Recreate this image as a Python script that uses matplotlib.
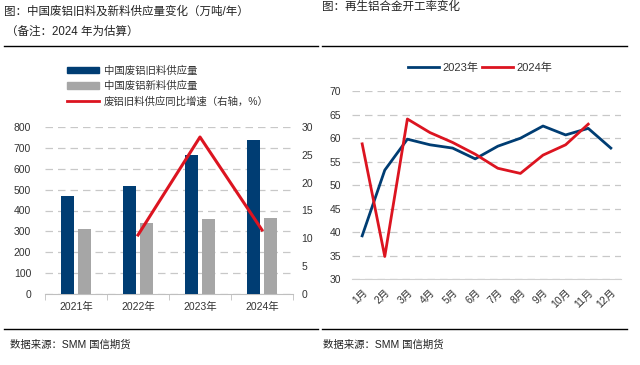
import matplotlib
matplotlib.use("Agg")
import matplotlib.pyplot as plt
from matplotlib.lines import Line2D
from matplotlib.patches import Patch

plt.rcParams['font.family'] = ['Liberation Sans', 'Noto Sans CJK SC', 'DejaVu Sans']

# left chart data
years = ['2021年', '2022年', '2023年', '2024年']
old_supply = [469, 518, 665, 739]
new_supply = [312, 340, 359, 366]
yoy_years = [1, 2, 3]
yoy_growth = [10.6, 28.2, 11.5]

# right chart data
months = ['1月', '2月', '3月', '4月', '5月', '6月', '7月', '8月', '9月', '10月', '11月', '12月']
rate_2023 = [39.2, 53.2, 59.8, 58.6, 57.9, 55.6, 58.3, 60.0, 62.6, 60.7, 62.1, 57.9]
rate_2024 = [58.8, 34.8, 64.1, 61.2, 59.1, 56.6, 53.6, 52.5, 56.4, 58.6, 63.0]

BLUE = '#003d73'
GREY = '#a6a6a6'
RED = '#dc1420'
GRID = '#c8c8c8'
TXT = '#333333'

fig = plt.figure(figsize=(6.4, 3.65), dpi=100)

# headers / footers
fig.text(4/640, 1-12/365, '图：中国废铝旧料及新料供应量变化（万吨/年）', fontsize=8.3,
         va='center', ha='left', color='#222222')
fig.text(6/640, 1-32/365, '（备注：2024 年为估算）', fontsize=8.3, va='center', ha='left', color='#222222')
fig.text(322/640, 1-7/365, '图：再生铝合金开工率变化', fontsize=8.3, va='center', ha='left', color='#222222')
fig.add_artist(Line2D([4/640, 318/640], [1-46/365]*2, color='black', lw=1.0))
fig.add_artist(Line2D([322/640, 627/640], [1-46/365]*2, color='black', lw=1.0))
fig.add_artist(Line2D([4/640, 318/640], [1-329/365]*2, color='black', lw=1.0))
fig.add_artist(Line2D([322/640, 627/640], [1-329/365]*2, color='black', lw=1.0))
fig.text(10/640, 1-345/365, '数据来源：SMM 国信期货', fontsize=7.5, va='center', ha='left', color='#222222')
fig.text(323/640, 1-345/365, '数据来源：SMM 国信期货', fontsize=7.5, va='center', ha='left', color='#222222')

# left chart
ax = fig.add_axes([45/640, 1-294/365, 248/640, 167/365])
x = range(len(years))
w = 0.2
ax.bar([i - 0.135 for i in x], old_supply, width=w, color=BLUE, zorder=3)
ax.bar([i + 0.135 for i in x], new_supply, width=w, color=GREY, zorder=3)
ax.set_ylim(0, 800)
ax.set_xlim(-0.5, 3.5)
ax.set_yticks(range(0, 801, 100))
ax.yaxis.grid(True, linestyle=(0, (6, 4)), color=GRID, lw=0.9, zorder=0)
ax.set_xticks(list(x))
ax.set_xticklabels(years)
ax.set_xticks([-0.5, 0.5, 1.5, 2.5, 3.5], minor=True)
ax.tick_params(axis='x', which='major', length=0, pad=6, labelsize=7.5, colors=TXT)
ax.tick_params(axis='x', which='minor', length=4, color='#bfbfbf')
ax.tick_params(axis='y', length=0, labelsize=7.5, colors=TXT, pad=10)
for s in ['left', 'right', 'top']:
    ax.spines[s].set_visible(False)
ax.spines['bottom'].set_color('#bfbfbf')

ax2 = ax.twinx()
ax2.plot(yoy_years, yoy_growth, color=RED, lw=2.2, zorder=4)
ax2.set_ylim(0, 30)
ax2.set_yticks(range(0, 31, 5))
ax2.tick_params(axis='y', length=0, labelsize=7.5, colors=TXT, pad=6)
for s in ax2.spines.values():
    s.set_visible(False)

handles = [Patch(color=BLUE), Patch(color=GREY), Line2D([], [], color=RED, lw=2)]
labels = ['中国废铝旧料供应量', '中国废铝新料供应量', '废铝旧料供应同比增速（右轴，%）']
fig.legend(handles, labels, loc='center left', bbox_to_anchor=(58/640, 1-86/365),
           frameon=False, fontsize=7.5, handlelength=3.0, handleheight=0.6,
           labelspacing=0.5, handletextpad=0.5, labelcolor=TXT)

# right chart
bx = fig.add_axes([352/640, 1-279/365, 269/640, 187.7/365])
bx.plot(range(len(rate_2023)), rate_2023, color=BLUE, lw=2.0, label='2023年', zorder=3)
bx.plot(range(len(rate_2024)), rate_2024, color=RED, lw=2.0, label='2024年', zorder=4)
bx.set_ylim(30, 70)
bx.set_xlim(-0.45, 11.45)
bx.set_yticks(range(30, 71, 5))
bx.yaxis.grid(True, linestyle=(0, (6, 4)), color=GRID, lw=0.9, zorder=0)
bx.set_xticks(range(len(months)))
bx.set_xticklabels(months, rotation=45, ha='right', rotation_mode='anchor')
bx.tick_params(axis='x', length=0, labelsize=7.5, colors=TXT, pad=6)
bx.tick_params(axis='y', length=0, labelsize=7.5, colors=TXT, pad=8)
for s in ['left', 'right', 'top']:
    bx.spines[s].set_visible(False)
bx.spines['bottom'].set_color('#d0d0d0')
bx.legend(loc='center', bbox_to_anchor=(0.475, 1 + (91.3-68)/187.7), ncol=2, frameon=False,
          fontsize=8, handlelength=2.8, columnspacing=0.3, handletextpad=0.3, labelcolor=TXT)

fig.savefig('out.png', dpi=100)
